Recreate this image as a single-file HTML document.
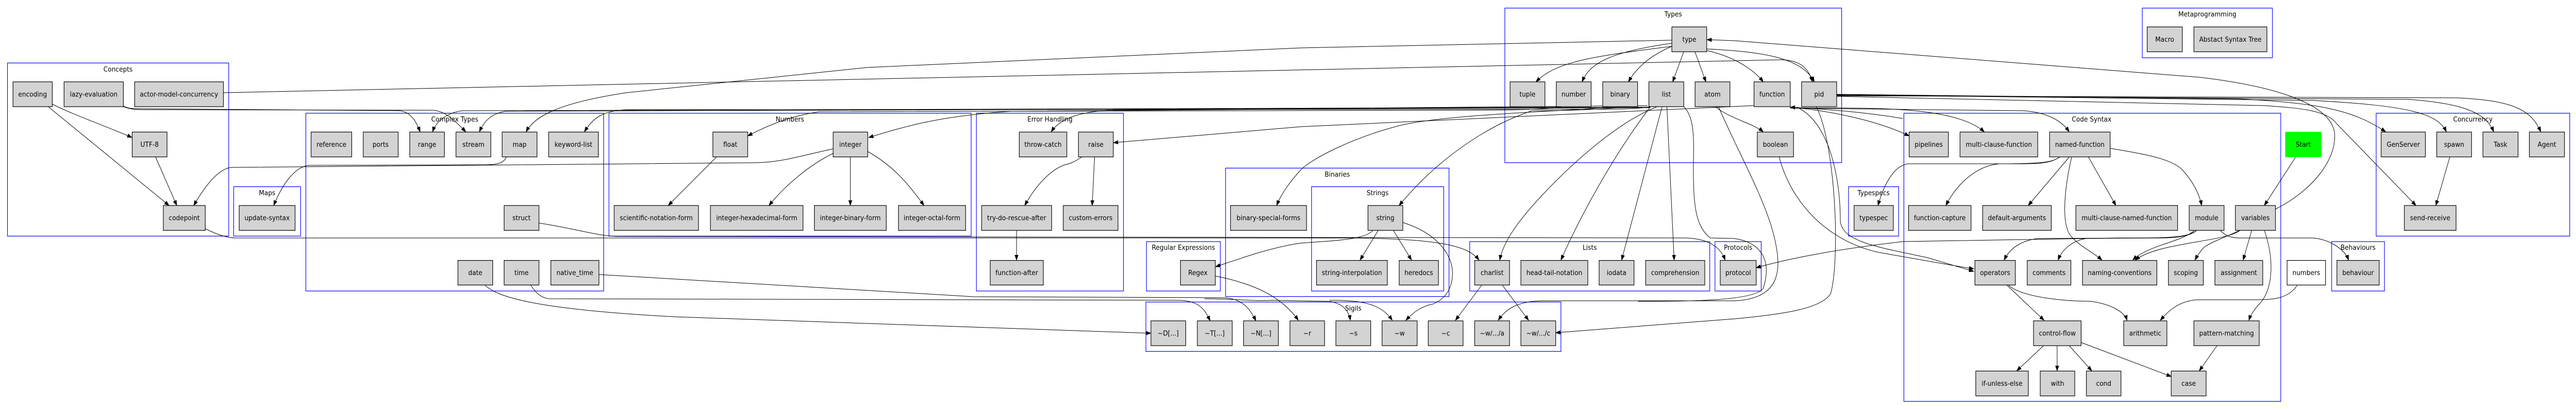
<!DOCTYPE html>
<html><head><meta charset="utf-8"><style>
html,body{margin:0;padding:0;background:#fff;width:100%;height:100%;overflow:hidden;}
svg{display:block;position:absolute;left:0;top:0;width:100vw;height:100vh;}
text{font-family:"DejaVu Sans","Liberation Sans",sans-serif;font-size:13px;text-anchor:middle;fill:#000;}
.c{fill:none;stroke:#0000ff;stroke-width:1.2;}
.n{fill:#d3d3d3;stroke:#000;stroke-width:1.2;}
.e{fill:none;stroke:#000;stroke-width:1;marker-end:url(#a);}
.l{fill:none;stroke:#000;stroke-width:1;}
</style></head><body>
<svg viewBox="0 0 5347 796" preserveAspectRatio="none" xmlns="http://www.w3.org/2000/svg">
<defs><marker id="a" markerWidth="11" markerHeight="8" refX="10" refY="4" orient="auto" markerUnits="userSpaceOnUse"><path d="M0,0L11,4L0,8z" fill="#000"/></marker></defs>
<g>
<rect class="c" x="15.5" y="122.3" width="459.2" height="336.1"/><text x="245" y="139">Concepts</text>
<rect class="c" x="485" y="362.5" width="139" height="95.9"/><text x="554.5" y="379">Maps</text>
<rect class="c" x="634.8" y="219.8" width="618.2" height="345.2"/><text x="944" y="236">Complex Types</text>
<rect class="c" x="1264" y="219.8" width="751.8" height="238.6"/><text x="1639.5" y="236">Numbers</text>
<rect class="c" x="2026.7" y="219.8" width="305.3" height="345.2"/><text x="2179.4" y="236">Error Handling</text>
<rect class="c" x="2379.7" y="469.1" width="153.3" height="95.9"/><text x="2456.4" y="485">Regular Expressions</text>
<rect class="c" x="2543.9" y="326.4" width="463.8" height="249.3"/><text x="2775.8" y="343">Binaries</text>
<rect class="c" x="2722.4" y="362.5" width="274.3" height="202.5"/><text x="2859.5" y="379">Strings</text>
<rect class="c" x="2378.6" y="586.4" width="861.4" height="95.9"/><text x="2809" y="603">Sigils</text>
<rect class="c" x="3050.7" y="469.1" width="498.2" height="95.9"/><text x="3299.8" y="485">Lists</text>
<rect class="c" x="3559.8" y="469.1" width="95.9" height="95.9"/><text x="3607.8" y="485">Protocols</text>
<rect class="c" x="3123.6" y="15.7" width="699.1" height="300.1"/><text x="3473" y="32">Types</text>
<rect class="c" x="3837" y="362.5" width="104" height="95.9"/><text x="3889" y="379">Typespecs</text>
<rect class="c" x="3951.9" y="219.8" width="782.2" height="559.5"/><text x="4341.6" y="236">Code Syntax</text>
<rect class="c" x="4446.7" y="15.7" width="270.2" height="96.5"/><text x="4581.8" y="32">Metaprogramming</text>
<rect class="c" x="4932.2" y="219.8" width="401.8" height="238.6"/><text x="5133" y="236">Concurrency</text>
<rect class="c" x="4839.8" y="469.1" width="109.6" height="95.9"/><text x="4894.6" y="485">Behaviours</text>
</g>
<g>
<path class="e" d="M108,202 C150,222 220,245 274,267"/>
<path class="e" d="M100,207 L351,399"/>
<path class="e" d="M323,305 L367,399"/>
<path class="e" d="M1729,289 C1650,305 1620,316 1560,316 L480,325 C450,328 420,370 402,399"/>
<path class="e" d="M1051,305 C1045,318 1030,320 1000,320 L640,321 C610,325 585,360 568,399"/>
<path class="e" d="M256,206 C265,210 270,211 290,211 L830,215 C855,218 866,240 872,256"/>
<path class="e" d="M256,207 C270,212 280,213 300,213 L900,214 C925,216 945,235 967,256"/>
<path class="e" d="M464,180 L3700,116 C3740,118 3755,135 3762,159"/>
<path class="e" d="M3542,95 C3650,100 3740,110 3766,159"/>
<path class="e" d="M3470,78 L2700,93 L1800,131 L1300,180 C1160,200 1110,225 1092,256"/>
<path class="e" d="M3425,207 C3400,212 3350,212 3300,212 L1300,213 C1250,215 1230,230 1213,256"/>
<path class="e" d="M3425,208 L960,215 C930,218 905,235 898,256"/>
<path class="e" d="M3425,209 L1050,216 C1020,220 1005,235 995,256"/>
<path class="e" d="M3240,207 C3200,214 3100,214 3000,214 L1700,217 C1640,225 1590,245 1552,264"/>
<path class="e" d="M3240,208 L2100,216 C1950,225 1880,245 1803,267"/>
<path class="e" d="M1487,305 L1387,399"/>
<path class="e" d="M1729,298 C1680,320 1630,360 1596,399"/>
<path class="e" d="M1765,305 L1765,399"/>
<path class="e" d="M1801,294 C1850,320 1880,350 1918,399"/>
<path class="e" d="M3420,205 L2300,214 C2240,218 2200,230 2182,256"/>
<path class="e" d="M3640,205 L2700,246 L2311,277"/>
<path class="e" d="M2245,305 C2230,315 2220,318 2210,320 C2180,330 2150,360 2127,399"/>
<path class="e" d="M2272,305 L2267,399"/>
<path class="e" d="M2110,447 L2110,505"/>
<path class="e" d="M2850,447 C2840,460 2800,465 2760,468 L2700,472 C2640,480 2580,500 2523,518"/>
<path class="e" d="M2523,536 C2600,550 2660,575 2695,622"/>
<path class="e" d="M3340,207 C3300,215 3000,220 2900,245 C2800,270 2720,310 2700,330 C2680,350 2660,375 2650,399"/>
<path class="e" d="M3380,207 C3300,215 3200,215 3180,215 C3100,240 3040,280 3000,310 C2960,340 2930,370 2904,399"/>
<path class="e" d="M2861,447 L2823,505"/>
<path class="e" d="M2892,447 L2930,505"/>
<path class="e" d="M2912,432 C2990,455 3015,500 3015,530 C3015,560 3000,580 2975,590 C2950,595 2935,605 2918,622"/>
<path class="e" d="M1006,553 C1030,575 1100,600 1400,615 L2389,647"/>
<path class="e" d="M1101,553 C1110,565 1120,578 1140,580 L2450,583 C2490,585 2500,600 2512,623"/>
<path class="e" d="M1243,533 L2020,576 L2540,578 C2580,580 2595,600 2607,623"/>
<path class="e" d="M2500,580 C2560,580 2600,585 2640,583 L2760,585 C2790,590 2800,605 2803,622"/>
<path class="e" d="M2760,583 C2840,582 2870,595 2890,622"/>
<path class="e" d="M426,444 C450,455 470,462 490,462 L2800,462 C3000,463 3050,480 3070,505"/>
<path class="e" d="M1119,433 C1200,445 1240,458 1280,459 L3500,462 C3560,464 3575,490 3581,505"/>
<path class="e" d="M3440,207 C3350,240 3250,330 3200,380 C3150,430 3120,470 3113,505"/>
<path class="e" d="M3426,207 C3350,300 3280,420 3240,505"/>
<path class="e" d="M3450,207 L3366,505"/>
<path class="e" d="M3460,207 L3475,505"/>
<path class="e" d="M3076,553 L3021,622"/>
<path class="e" d="M3118,553 L3173,622"/>
<path class="e" d="M3567,207 C3600,280 3660,380 3680,450 C3700,520 3700,580 3600,584 L3200,584 C3150,585 3125,600 3110,622"/>
<path class="e" d="M3770,207 C3810,280 3820,500 3800,570 C3780,600 3700,610 3600,619 L3229,646"/>
<path class="l" d="M3495,207 C3520,230 3515,280 3515,330 C3515,400 3520,440 3550,462 L3600,463 C3650,470 3680,500 3660,560 C3640,585 3500,585 3400,585"/>
<path class="e" d="M3470,90 C3300,110 3230,120 3188,159"/>
<path class="e" d="M3470,84 C3350,100 3300,120 3284,159"/>
<path class="e" d="M3470,90 C3420,110 3395,135 3380,159"/>
<path class="e" d="M3495,100 L3472,159"/>
<path class="e" d="M3518,100 L3541,159"/>
<path class="e" d="M3542,98 C3600,110 3640,135 3660,159"/>
<path class="e" d="M3560,207 C3590,230 3640,240 3660,256"/>
<path class="e" d="M3716,208 C3800,215 3900,235 3963,264"/>
<path class="e" d="M3716,209 C3850,212 4050,200 4119,256"/>
<path class="e" d="M3716,210 L4200,215 C4250,218 4280,235 4295,256"/>
<path class="e" d="M3950,230 C3850,215 3780,212 3716,208"/>
<path class="e" d="M4275,305 C4260,315 4240,318 4200,318 L3960,318 C3930,322 3910,360 3898,399"/>
<path class="e" d="M4275,305 C4260,315 4240,318 4150,318 C4100,322 4060,360 4039,399"/>
<path class="e" d="M4295,305 L4210,399"/>
<path class="e" d="M4335,305 L4392,399"/>
<path class="e" d="M4300,305 C4282,380 4280,440 4300,460 C4320,480 4345,490 4363,505"/>
<path class="e" d="M4380,288 C4460,300 4510,310 4530,330 C4550,350 4565,375 4570,399"/>
<path class="e" d="M4560,447 C4545,460 4510,462 4480,462 L4230,463 C4190,468 4170,485 4160,505"/>
<path class="e" d="M4560,447 C4545,460 4510,462 4480,462 L4330,463 C4300,468 4280,485 4272,505"/>
<path class="e" d="M4555,447 C4530,470 4460,475 4427,505"/>
<path class="e" d="M4650,447 C4620,470 4480,470 4432,505"/>
<path class="e" d="M4650,447 C4620,460 4590,470 4575,480 C4565,490 4560,498 4556,505"/>
<path class="e" d="M4674,447 L4656,505"/>
<path class="e" d="M4700,447 C4720,500 4720,560 4690,590 C4680,600 4672,610 4668,622"/>
<path class="e" d="M4608,447 C4620,458 4630,462 4650,462 L4800,462 C4830,464 4865,480 4875,505"/>
<path class="e" d="M4765,305 L4700,399"/>
<path class="e" d="M4723,406 C4800,370 4850,310 4846,259 C4840,210 4750,170 4565,150 L3600,79 L3543,77"/>
<path class="e" d="M3812,183 L4650,192 C4800,200 4880,210 4952,256"/>
<path class="e" d="M3812,184 L4800,195 C5000,205 5060,220 5078,256"/>
<path class="e" d="M3812,185 L5000,193 C5100,200 5160,215 5176,256"/>
<path class="e" d="M3812,186 L5100,190 C5220,195 5255,215 5274,256"/>
<path class="e" d="M3812,187 L4700,205 C4780,210 4830,215 4850,240 L5015,399"/>
<path class="e" d="M5085,305 L5056,399"/>
<path class="e" d="M4769,553 C4750,580 4720,582 4680,582 L4560,582 C4520,585 4500,605 4484,622"/>
<path class="e" d="M4165,553 L4243,622"/>
<path class="e" d="M4168,553 C4200,580 4300,585 4340,585 C4380,590 4410,605 4415,622"/>
<path class="e" d="M4242,671 L4186,720"/>
<path class="e" d="M4270,671 L4270,720"/>
<path class="e" d="M4295,671 L4342,720"/>
<path class="e" d="M4320,665 L4507,731"/>
<path class="e" d="M4602,671 L4565,720"/>
<path class="e" d="M3693,305 C3720,400 3800,470 3900,490 C3990,505 4050,515 4097,522"/>
<path class="e" d="M3730,208 C3800,240 3820,350 3820,430 C3825,470 3900,480 4000,500 L4097,527"/>
<path class="e" d="M4560,447 C4540,462 4500,462 4400,462 L3950,469 C3800,485 3700,505 3645,520"/>
</g>
<g>
<rect class="n" x="27" y="158.9" width="81.5" height="48.2"/><text x="67.7" y="187.5">encoding</text>
<rect class="n" x="133" y="158.9" width="123" height="48.2"/><text x="194.5" y="187.5">lazy-evaluation</text>
<rect class="n" x="279.5" y="158.9" width="184.3" height="48.2"/><text x="371.6" y="187.5">actor-model-concurrency</text>
<rect class="n" x="274.4" y="256.4" width="72.3" height="48.2"/><text x="310.5" y="285">UTF-8</text>
<rect class="n" x="339" y="399" width="87" height="48.3"/><text x="382.5" y="427.6">codepoint</text>
<rect class="n" x="496.5" y="399" width="116" height="48.3"/><text x="554.5" y="427.6">update-syntax</text>
<rect class="n" x="645.7" y="256.4" width="84.3" height="48.2"/><text x="688" y="285">reference</text>
<rect class="n" x="754" y="256.4" width="72.5" height="48.2"/><text x="790" y="285">ports</text>
<rect class="n" x="850.6" y="256.4" width="71.8" height="48.2"/><text x="886.5" y="285">range</text>
<rect class="n" x="946.5" y="256.4" width="72.3" height="48.2"/><text x="982.7" y="285">stream</text>
<rect class="n" x="1042.3" y="256.4" width="72.4" height="48.2"/><text x="1078.5" y="285">map</text>
<rect class="n" x="1138.8" y="256.4" width="103.2" height="48.2"/><text x="1190.4" y="285">keyword-list</text>
<rect class="n" x="1046.4" y="399" width="72.3" height="48.3"/><text x="1082.5" y="427.6">struct</text>
<rect class="n" x="950.5" y="505.6" width="72.3" height="47.8"/><text x="986.6" y="534">date</text>
<rect class="n" x="1046.4" y="505.6" width="72.3" height="47.8"/><text x="1082.5" y="534">time</text>
<rect class="n" x="1143.4" y="505.6" width="99.8" height="47.8"/><text x="1193.3" y="534">native_time</text>
<rect class="n" x="1479.7" y="256.4" width="72.3" height="48.2"/><text x="1515.8" y="285">float</text>
<rect class="n" x="1729.4" y="256.4" width="71.7" height="48.2"/><text x="1765.2" y="285">integer</text>
<rect class="n" x="1274.8" y="399" width="175.1" height="48.3"/><text x="1362.3" y="427.6">scientific-notation-form</text>
<rect class="n" x="1474.6" y="399" width="192.2" height="48.3"/><text x="1570.7" y="427.6">integer-hexadecimal-form</text>
<rect class="n" x="1690.4" y="399" width="149.2" height="48.3"/><text x="1765" y="427.6">integer-binary-form</text>
<rect class="n" x="1864.9" y="399" width="139.4" height="48.3"/><text x="1934.6" y="427.6">integer-octal-form</text>
<rect class="n" x="2115.7" y="256.4" width="98.7" height="48.2"/><text x="2165" y="285">throw-catch</text>
<rect class="n" x="2238.5" y="256.4" width="72.4" height="48.2"/><text x="2274.7" y="285">raise</text>
<rect class="n" x="2037.6" y="399" width="145.3" height="48.3"/><text x="2110.2" y="427.6">try-do-rescue-after</text>
<rect class="n" x="2207" y="399" width="113.6" height="48.3"/><text x="2263.8" y="427.6">custom-errors</text>
<rect class="n" x="2055.4" y="505.6" width="110.2" height="47.8"/><text x="2110.5" y="534">function-after</text>
<rect class="n" x="2450.3" y="505.6" width="72.3" height="47.8"/><text x="2486.4" y="534">Regex</text>
<rect class="n" x="2554.2" y="399" width="157.8" height="48.3"/><text x="2633" y="427.6">binary-special-forms</text>
<rect class="n" x="2839.5" y="399" width="72.3" height="48.3"/><text x="2875.6" y="427.6">string</text>
<rect class="n" x="2732.7" y="505.6" width="147" height="47.8"/><text x="2806.2" y="534">string-interpolation</text>
<rect class="n" x="2904.3" y="505.6" width="81.5" height="47.8"/><text x="2945" y="534">heredocs</text>
<rect class="n" x="2389" y="622.9" width="72.2" height="48.2"/><text x="2425" y="651.5">~D[...]</text>
<rect class="n" x="2485.3" y="622.9" width="72.4" height="48.2"/><text x="2521.5" y="651.5">~T[...]</text>
<rect class="n" x="2581.2" y="622.9" width="72.3" height="48.2"/><text x="2617.3" y="651.5">~N[...]</text>
<rect class="n" x="2677.6" y="622.9" width="71.8" height="48.2"/><text x="2713.5" y="651.5">~r</text>
<rect class="n" x="2772.9" y="622.9" width="72.3" height="48.2"/><text x="2809" y="651.5">~s</text>
<rect class="n" x="2868.8" y="622.9" width="72.8" height="48.2"/><text x="2905.2" y="651.5">~w</text>
<rect class="n" x="2964.6" y="622.9" width="72.3" height="48.2"/><text x="3000.7" y="651.5">~c</text>
<rect class="n" x="3061" y="622.9" width="72.4" height="48.2"/><text x="3097.2" y="651.5">~w/.../a</text>
<rect class="n" x="3156.9" y="622.9" width="72.3" height="48.2"/><text x="3193" y="651.5">~w/.../c</text>
<rect class="n" x="3061" y="505.6" width="72.4" height="47.8"/><text x="3097.2" y="534">charlist</text>
<rect class="n" x="3156.9" y="505.6" width="138.9" height="47.8"/><text x="3226.3" y="534">head-tail-notation</text>
<rect class="n" x="3319.3" y="505.6" width="72.4" height="47.8"/><text x="3355.5" y="534">iodata</text>
<rect class="n" x="3415.8" y="505.6" width="122.8" height="47.8"/><text x="3477.2" y="534">comprehension</text>
<rect class="n" x="3570.7" y="505.6" width="74.6" height="47.8"/><text x="3608" y="534">protocol</text>
<rect class="n" x="3470.3" y="52.3" width="72.3" height="48.2"/><text x="3506.5" y="81">type</text>
<rect class="n" x="3134.5" y="158.9" width="72.3" height="48.2"/><text x="3170.6" y="187.5">tuple</text>
<rect class="n" x="3230.4" y="158.9" width="72.3" height="48.2"/><text x="3266.5" y="187.5">number</text>
<rect class="n" x="3326.8" y="158.9" width="72.3" height="48.2"/><text x="3363" y="187.5">binary</text>
<rect class="n" x="3422.6" y="158.9" width="72.4" height="48.2"/><text x="3458.8" y="187.5">list</text>
<rect class="n" x="3518.5" y="158.9" width="72.3" height="48.2"/><text x="3554.6" y="187.5">atom</text>
<rect class="n" x="3640.8" y="158.9" width="75.2" height="48.2"/><text x="3678.4" y="187.5">function</text>
<rect class="n" x="3739.5" y="158.9" width="72.9" height="48.2"/><text x="3776" y="187.5">pid</text>
<rect class="n" x="3647.6" y="256.4" width="75.2" height="48.2"/><text x="3685.2" y="285">boolean</text>
<rect class="n" x="3848.5" y="399" width="81.5" height="48.3"/><text x="3889.2" y="427.6">typespec</text>
<rect class="n" x="3962.8" y="256.4" width="81.5" height="48.2"/><text x="4003.5" y="285">pipelines</text>
<rect class="n" x="4068.4" y="256.4" width="161.3" height="48.2"/><text x="4149" y="285">multi-clause-function</text>
<rect class="n" x="4254.3" y="256.4" width="125.7" height="48.2"/><text x="4317.1" y="285">named-function</text>
<rect class="n" x="3961.6" y="399" width="129.7" height="48.3"/><text x="4026.4" y="427.6">function-capture</text>
<rect class="n" x="4115.4" y="399" width="142.4" height="48.3"/><text x="4186.6" y="427.6">default-arguments</text>
<rect class="n" x="4308.9" y="399" width="211.1" height="48.3"/><text x="4414.5" y="427.6">multi-clause-named-function</text>
<rect class="n" x="4544.1" y="399" width="72.4" height="48.3"/><text x="4580.3" y="427.6">module</text>
<rect class="n" x="4640" y="399" width="83.2" height="48.3"/><text x="4681.6" y="427.6">variables</text>
<rect class="n" x="4099.4" y="505.6" width="83.8" height="47.8"/><text x="4141.3" y="534">operators</text>
<rect class="n" x="4207.9" y="505.6" width="90.6" height="47.8"/><text x="4253.2" y="534">comments</text>
<rect class="n" x="4322.6" y="505.6" width="154.4" height="47.8"/><text x="4399.8" y="534">naming-conventions</text>
<rect class="n" x="4501" y="505.6" width="72.4" height="47.8"/><text x="4537.2" y="534">scoping</text>
<rect class="n" x="4597.5" y="505.6" width="99.3" height="47.8"/><text x="4647.2" y="534">assignment</text>
<rect x="4747.3" y="505.6" width="79.8" height="47.8" fill="#fff" stroke="#000" stroke-width="1.2"/><text x="4787.2" y="534">numbers</text>
<rect class="n" x="4850.7" y="505.6" width="87.8" height="47.8"/><text x="4894.6" y="534">behaviour</text>
<rect class="n" x="4221" y="622.9" width="98.8" height="48.2"/><text x="4270.4" y="651.5">control-flow</text>
<rect class="n" x="4408.2" y="622.9" width="89.6" height="48.2"/><text x="4453" y="651.5">arithmetic</text>
<rect class="n" x="4553.9" y="622.9" width="135.5" height="48.2"/><text x="4621.7" y="651.5">pattern-matching</text>
<rect class="n" x="4101.1" y="720.4" width="109.1" height="48.2"/><text x="4155.6" y="749">if-unless-else</text>
<rect class="n" x="4234.9" y="720.4" width="71.7" height="48.2"/><text x="4270.7" y="749">with</text>
<rect class="n" x="4330.7" y="720.4" width="71.8" height="48.2"/><text x="4366.6" y="749">cond</text>
<rect class="n" x="4506.8" y="720.4" width="72.4" height="48.2"/><text x="4543" y="749">case</text>
<rect class="n" x="4456.9" y="52.3" width="72.9" height="48.2"/><text x="4493.3" y="81">Macro</text>
<rect class="n" x="4553.9" y="52.3" width="151.5" height="48.2"/><text x="4629.6" y="81">Abstact Syntax Tree</text>
<rect x="4743.9" y="256.4" width="74.1" height="48.2" fill="#00ff00" stroke="#00ff00"/><text x="4781" y="285">Start</text>
<rect class="n" x="4942.5" y="256.4" width="91.9" height="48.2"/><text x="4988.5" y="285">GenServer</text>
<rect class="n" x="5057.9" y="256.4" width="72.3" height="48.2"/><text x="5094" y="285">spawn</text>
<rect class="n" x="5153.8" y="256.4" width="72.9" height="48.2"/><text x="5190.2" y="285">Task</text>
<rect class="n" x="5250.2" y="256.4" width="72.9" height="48.2"/><text x="5286.6" y="285">Agent</text>
<rect class="n" x="4990.7" y="399" width="107.3" height="48.3"/><text x="5044.3" y="427.6">send-receive</text>
</g>
</svg>
</body></html>
